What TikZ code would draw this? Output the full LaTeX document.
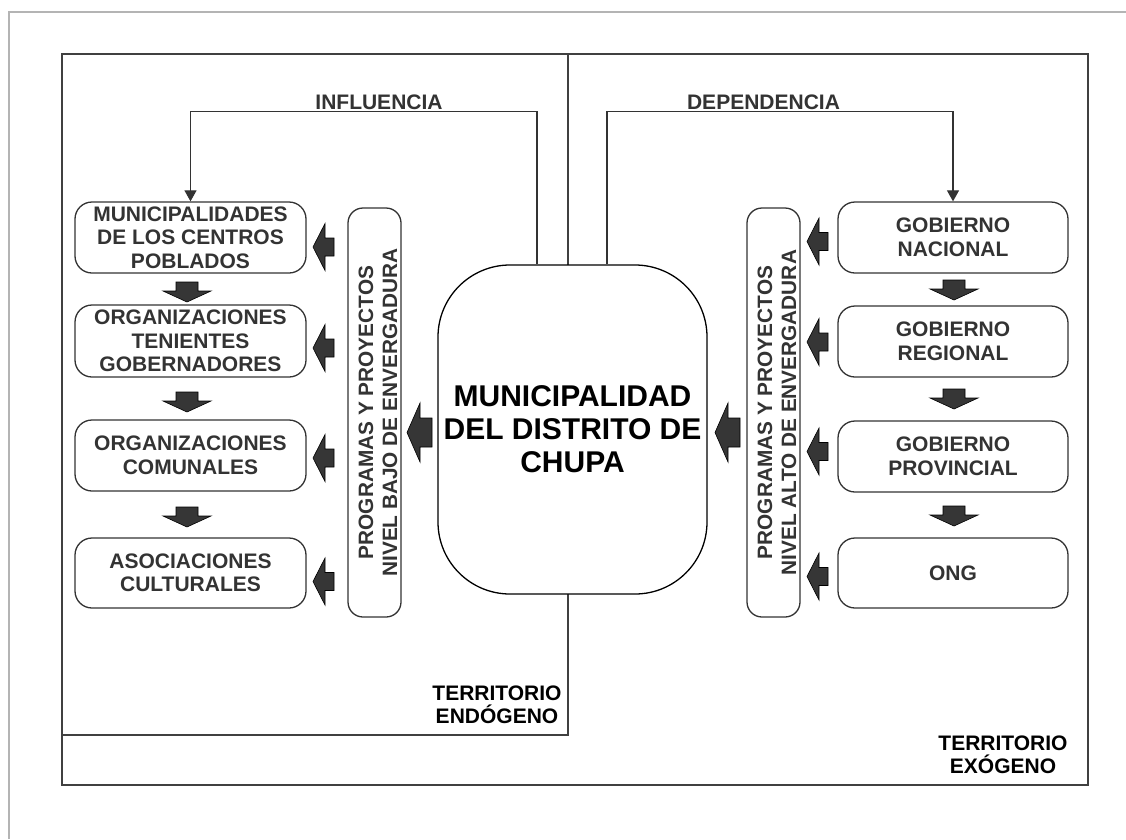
\documentclass[tikz,border=0pt]{standalone}
\usepackage{fontspec}
\setmainfont{Liberation Sans}
\usetikzlibrary{arrows.meta,calc}
\definecolor{dk}{HTML}{333333}
\definecolor{afill}{HTML}{363636}
\definecolor{fr}{HTML}{B4B4B4}
\definecolor{ln}{HTML}{404040}
\begin{document}
\begin{tikzpicture}[x=1pt,y=-1pt,
  boxst/.style={draw=dk, line width=1.3pt, rounded corners=17pt, fill=white,
    minimum width=231pt, minimum height=71pt, inner sep=0pt, align=center,
    text=dk, font=\fontsize{21}{23.5}\selectfont\bfseries},
  progst/.style={draw=dk, line width=1.3pt, rounded corners=15pt,
    minimum width=409pt, minimum height=53pt, inner sep=0pt, rotate=90},
  progtxt/.style={rotate=90, align=center, text=dk, inner sep=0pt,
    font=\fontsize{20.8}{24}\selectfont\bfseries},
  cst/.style={draw=black, line width=1.3pt, rounded corners=72pt, fill=white,
    minimum width=269pt, minimum height=329pt, inner sep=0pt, align=center,
    text=black, font=\fontsize{30}{33}\selectfont\bfseries},
  lbl/.style={inner sep=0pt, text=dk, font=\fontsize{21}{24}\selectfont\bfseries},
  terr/.style={inner sep=0pt, align=center, text=black, font=\fontsize{21}{23}\selectfont\bfseries},
  conn/.style={draw=dk, line width=1.2pt, -{Triangle[width=12pt,length=11pt]}},
  region/.style={draw=ln, line width=1.4pt},
  arrowfill/.style={fill=afill, draw=black, line width=0.6pt},
  downarr/.pic={\filldraw[arrowfill] (-11,0) -- (11,0) -- (11,9) -- (24,9) -- (0,20) -- (-24,9) -- (-11,9) -- cycle;},
  leftarr/.pic={\filldraw[arrowfill] (0,0) -- (12,-23.5) -- (12,-9) -- (21,-9) -- (21,9) -- (12,9) -- (12,23.5) -- cycle;},
  bigleft/.pic={\filldraw[arrowfill] (0,0) -- (13,-29.5) -- (13,-14.5) -- (25,-14.5) -- (25,14.5) -- (13,14.5) -- (13,29.5) -- cycle;}
]
\useasboundingbox (0,0) rectangle (1126,839);
\fill[white] (0,0) rectangle (1126,839);
% page frame
\draw[fr, line width=1.5pt] (9,839) -- (9,12) -- (1126,12);
% territories
\draw[region] (62,54) rectangle (1088,785);
\draw[region] (62,54) rectangle (568,735);

% central box
\node[cst] (cbox) at (572.5,429.5) {MUNICIPALIDAD\\DEL DISTRITO DE\\CHUPA};

% left column
\node[boxst] (b1) at (190.5,237.5) {MUNICIPALIDADES\\DE LOS CENTROS\\POBLADOS};
\node[boxst, minimum height=72pt] (b2) at (190.5,341) {ORGANIZACIONES\\TENIENTES\\GOBERNADORES};
\node[boxst] (b3) at (190.5,455.5) {ORGANIZACIONES\\COMUNALES};
\node[boxst, minimum height=70pt] (b4) at (190.5,573) {ASOCIACIONES\\CULTURALES};

% right column
\node[boxst, minimum width=230pt] (g1) at (953,237.5) {GOBIERNO\\NACIONAL};
\node[boxst, minimum width=230pt] (g2) at (953,341.5) {GOBIERNO\\REGIONAL};
\node[boxst, minimum width=230pt] (g3) at (953,456.5) {GOBIERNO\\PROVINCIAL};
\node[boxst, minimum width=230pt, minimum height=70pt] (g4) at (953,573) {ONG};

% program boxes
\node[progst] (p1) at (374.5,412.5) {};
\node[progtxt] (p1t) at ($(p1.center)+(3.5,0)$) {PROGRAMAS Y PROYECTOS\\NIVEL BAJO DE ENVERGADURA};
\node[progst] (p2) at (773.5,412.5) {};
\node[progtxt] (p2t) at ($(p2.center)+(3.5,0)$) {PROGRAMAS Y PROYECTOS\\NIVEL ALTO DE ENVERGADURA};

% influence / dependence connectors
\draw[conn] ([xshift=-35.5pt]cbox.north) -- ++(0,-153) -| (b1.north);
\draw[conn] ([xshift=34.5pt]cbox.north) -- ++(0,-153) -| (g1.north);
\node[lbl, anchor=base] (inf) at (379,109) {INFLUENCIA};
\node[lbl, anchor=base] (dep) at (763.5,109) {DEPENDENCIA};

% down arrows
\pic at (187,282) {downarr};
\pic at (187,392) {downarr};
\pic at (187,507) {downarr};
\pic at (954,280) {downarr};
\pic at (954,389) {downarr};
\pic at (954,506) {downarr};

% left-pointing arrows
\pic at (313,247) {leftarr};
\pic at (313,348) {leftarr};
\pic at (313,458) {leftarr};
\pic at (313,581.5) {leftarr};
\pic at (807,241.5) {leftarr};
\pic at (807,342) {leftarr};
\pic at (807,451.5) {leftarr};
\pic at (807,576.5) {leftarr};
\pic at (407,432.5) {bigleft};
\pic at (715,432.5) {bigleft};

% territory labels
\node[terr] (te) at (497,705) {TERRITORIO\\ENDÓGENO};
\node[terr] (tx) at (1003,755) {TERRITORIO\\EXÓGENO};
\end{tikzpicture}
\end{document}
